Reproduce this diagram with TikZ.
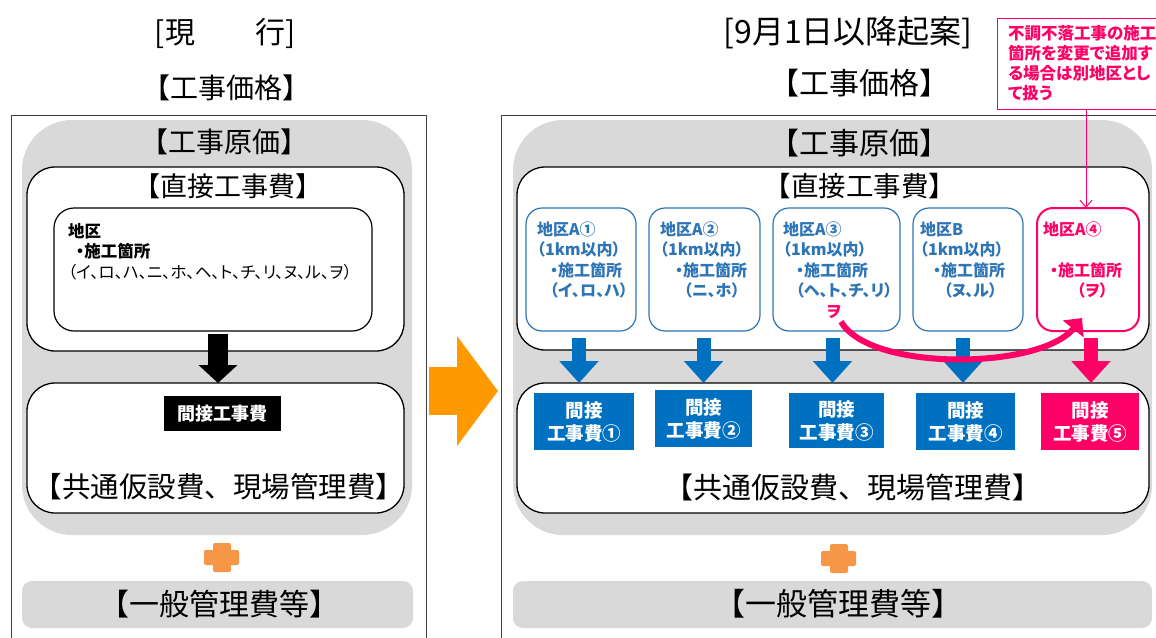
\documentclass[tikz,border=0pt]{standalone}
\usepackage{fontspec}
\setmainfont{Noto Sans CJK JP}
\newfontfamily\pfont{Noto Sans CJK JP}[RawFeature=+palt]
\usetikzlibrary{arrows.meta,calc}
\definecolor{cgray}{HTML}{D9D9D9}
\definecolor{cblue}{HTML}{0070C0}
\definecolor{cbluel}{HTML}{2E75B6}
\definecolor{cpink}{HTML}{FF0066}
\definecolor{corange}{HTML}{FF9900}
\definecolor{cplus}{HTML}{F79646}
\definecolor{cframe}{HTML}{404040}
\newcommand{\myfs}[1]{\fontsize{#1pt}{#1pt}\selectfont}
\newcommand{\myfsb}[2]{\fontsize{#1pt}{#2pt}\selectfont}
\begin{document}
\begin{tikzpicture}[x=1pt,y=-1pt,
  every node/.style={inner sep=0pt,outer sep=0pt},
  frame/.style={draw=cframe,line width=1pt,anchor=north west},
  costarea/.style={fill=cgray,rounded corners=50pt,anchor=north west},
  wbox/.style={draw=black,fill=white,line width=1.3pt,rounded corners=28pt,anchor=north west},
  ibox/.style={draw=black,fill=white,line width=1.2pt,rounded corners=20pt,anchor=north west},
  bbox/.style={draw=cbluel,fill=white,line width=1.2pt,rounded corners=16pt,anchor=north west},
  pbox/.style={draw=cpink,fill=white,line width=2pt,rounded corners=16pt,anchor=north west},
  btext/.style={anchor=north west,align=left,text=cbluel,font=\pfont\bfseries\myfsb{16}{20.3}},
  ptext/.style={anchor=north west,align=left,text=cpink,font=\pfont\bfseries\myfsb{16}{20.3}},
  kfill/.style={fill=cblue,text=white,anchor=north west,align=center,font=\bfseries\myfsb{18.5}{23}},
  kpink/.style={kfill,fill=cpink},
  grbar/.style={fill=cgray,rounded corners=10pt,anchor=north west},
  blkarrow/.style={draw=black,line width=20pt,-{Triangle[width=38pt,length=18pt]}},
  bluearrow/.style={draw=cblue,line width=14pt,-{Triangle[width=38pt,length=22pt]}},
  pinkarrow/.style={draw=cpink,line width=14pt,-{Triangle[width=38pt,length=22pt]}},
  bigarrow/.style={draw=corange,line width=48pt,-{Triangle[width=108pt,length=41pt]}}
]
\useasboundingbox (0,0) rectangle (1156,637);
\clip (0,0) rectangle (1156,637);
\fill[white] (0,0) rectangle (1156,637);

% ---------------- left panel ----------------
\node[font=\myfs{30}] (tL) at (225,33) {[現　　行]};
\node[font=\myfs{28}] (pL) at (226,88) {【工事価格】};
\node[frame,minimum width=415pt,minimum height=540pt] (outL) at (11,115) {};
\node[costarea,minimum width=390pt,minimum height=415pt] (costL) at (22,120) {};
\node[font=\myfs{28}] (cL) at (224,142) {【工事原価】};
\node[wbox,minimum width=377pt,minimum height=184pt] (dirL) at (27,167) {};
\node[font=\myfs{27}] (dL) at (228,186) {【直接工事費】};
\node[ibox,minimum width=318pt,minimum height=123pt] (inL) at (54,208) {};
\node[anchor=north west,align=left,font=\pfont\myfsb{16.5}{20.5}] (inLt) at (68,223)
  {{\bfseries 地区}\\\hspace{8pt}{\bfseries ・施工箇所}\\（イ、ロ、ハ、ニ、ホ、ヘ、ト、チ、リ、ヌ、ル、ヲ）};
\node[wbox,minimum width=377pt,minimum height=130pt] (indL) at (27,383) {};
\node[fill=black,text=white,minimum width=117pt,minimum height=35pt,font=\pfont\bfseries\myfs{18}] (kL) at (222.5,413.5) {間接工事費};
\node[font=\myfs{28.5}] (kyL) at (219,487) {【共通仮設費、現場管理費】};
\draw[blkarrow] ([xshift=5pt,yshift=-3pt]inL.south) -- ([xshift=2.5pt]indL.north);
\fill[cplus,rounded corners=2pt] (204,550) rectangle (239,565);
\fill[cplus,rounded corners=2pt] (213,543) rectangle (231,572);
\node[grbar,minimum width=391pt,minimum height=47pt] (genL) at (22,581) {};
\node[font=\myfs{30}] (gL) at (219,604) {【一般管理費等】};

% ---------------- middle arrow ----------------
\coordinate (oa) at (429,391);
\coordinate (ob) at (498,391);
\draw[bigarrow] (oa) -- (ob);

% ---------------- right panel ----------------
\node[font=\myfs{32}] (tR) at (848,33) {[9月1日以降起案]};
\node[font=\myfs{30}] (pR) at (859,83) {【工事価格】};
\node[frame,minimum width=700pt,minimum height=540pt] (outR) at (501,115) {};
\node[costarea,minimum width=639pt,minimum height=415pt] (costR) at (513,120) {};
\node[font=\myfs{30}] (cR) at (859,143) {【工事原価】};
\node[wbox,minimum width=632pt,minimum height=183pt] (dirR) at (517,167) {};
\node[font=\myfs{27.5}] (dR) at (860,186) {【直接工事費】};

\node[bbox,minimum width=110pt,minimum height=123pt] (A1) at (526,208) {};
\node[bbox,minimum width=111pt,minimum height=123pt] (A2) at (649,208) {};
\node[bbox,minimum width=127pt,minimum height=123pt] (A3) at (773,208) {};
\node[bbox,minimum width=110pt,minimum height=123pt] (B) at (913,208) {};
\node[pbox,minimum width=102pt,minimum height=123pt] (A4) at (1037,208) {};

\node[btext] (A1t) at (537,222) {地区A①\\（1km以内）\\\hspace{13pt}・施工箇所\\\hspace{13pt}（イ、ロ、ハ）};
\node[btext] (A2t) at (660,222) {地区A②\\（1km以内）\\\hspace{15pt}・施工箇所\\\hspace{24pt}（ニ、ホ）};
\node[btext] (A3t) at (783,222) {地区A③\\（1km以内）\\\hspace{13pt}・施工箇所\\\hspace{13pt}（ヘ、ト、チ、リ）};
\node[btext] (Bt) at (920,222) {地区B\\（1km以内）\\\hspace{13pt}・施工箇所\\\hspace{24pt}（ヌ、ル）};
\node[ptext] (A4t) at (1043,222) {地区A④\\\mbox{}\\\hspace{7pt}・施工箇所\\\hspace{34pt}（ヲ）};
\node[text=cpink,font=\pfont\bfseries\myfs{16}] (wo) at (834,312) {ヲ};

\node[wbox,minimum width=632pt,minimum height=130pt] (indR) at (517,383) {};
\node[kfill,minimum width=100pt,minimum height=57pt] (K1) at (534,393) {間接\\工事費①};
\node[kfill,minimum width=97pt,minimum height=57pt] (K2) at (655,390) {間接\\工事費②};
\node[kfill,minimum width=95pt,minimum height=55pt] (K3) at (789,393) {間接\\工事費③};
\node[kfill,minimum width=99pt,minimum height=57pt] (K4) at (916,393) {間接\\工事費④};
\node[kpink,minimum width=98pt,minimum height=57pt] (K5) at (1041,393) {間接\\工事費⑤};

\draw[bluearrow] ([xshift=-2pt,yshift=-7pt]A1.south) -- ([xshift=-2pt]A1.south |- indR.north);
\draw[bluearrow] ([xshift=-1pt,yshift=-7pt]A2.south) -- ([xshift=-1pt]A2.south |- indR.north);
\draw[bluearrow] ([xshift=-4pt,yshift=-7pt]A3.south) -- ([xshift=-4pt]A3.south |- indR.north);
\draw[bluearrow] ([xshift=-5pt,yshift=-7pt]B.south) -- ([xshift=-5pt]B.south |- indR.north);
\draw[pinkarrow] ([xshift=3pt,yshift=-7pt]A4.south) -- ([xshift=3pt]A4.south |- indR.north);

\node[font=\myfs{29}] (kyR) at (853,487) {【共通仮設費、現場管理費】};

% curved pink arrow
\draw[draw=cpink,line width=6pt,-{Triangle[width=26pt,length=14pt]}]
  ([xshift=7pt,yshift=-3pt]wo.south) .. controls (870,372) and (1040,370) .. (1082,318);

% callout
\node[draw=cpink,line width=1pt,fill=white,anchor=north west,align=left,text width=175pt,
      minimum height=91pt,inner xsep=11pt,inner ysep=5pt,text=cpink,
      font=\pfont\bfseries\myfsb{16.5}{20}] (note) at (997,18)
  {不調不落工事の施工\\箇所を変更で追加す\\る場合は別地区とし\\て扱う};
\coordinate (np) at (1086,109);
\draw[cpink,line width=1pt,-{Straight Barb[width=12pt,length=7pt]}] (np) -- (np |- A4.north);

\fill[cplus,rounded corners=2pt] (821,551) rectangle (856,566);
\fill[cplus,rounded corners=2pt] (830,544) rectangle (848,573);
\node[grbar,minimum width=639pt,minimum height=47pt] (genR) at (513,581) {};
\node[font=\myfs{31}] (gR) at (838,604) {【一般管理費等】};
\end{tikzpicture}
\end{document}
